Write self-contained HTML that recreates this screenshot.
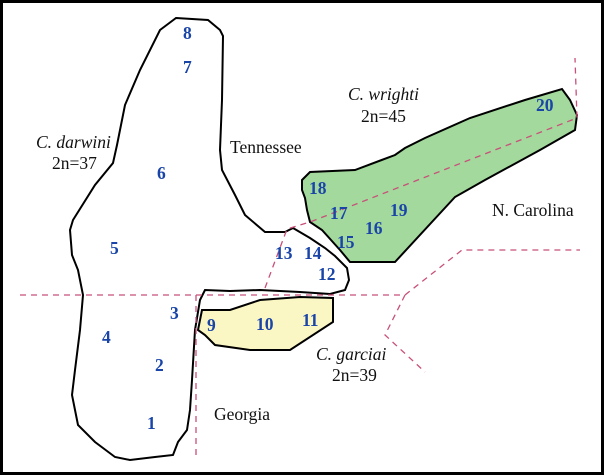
<!DOCTYPE html>
<html><head><style>
html,body{margin:0;padding:0;background:#fff}
svg{display:block}
.n{font-family:"Liberation Serif",serif;font-weight:bold;fill:#1a45a8;font-size:17.5px}
.t{font-family:"Liberation Serif",serif;fill:#111;font-size:17.5px}
</style></head><body>
<svg width="604" height="475" viewBox="0 0 604 475">
<rect x="1.5" y="1.5" width="601" height="472" fill="#fff" stroke="#000" stroke-width="3"/>
<polygon points="176,18 208,20 220,30 223,36 222,100 220,150 222,170 235,195 245,215 265,232 285,232 293,228 310,238 325,248 335,256 347,268 349,280 345,290 330,294 300,292 260,290 230,291 205,290 200,300 195,330 192,380 190,410 187,430 178,442 173,455 155,457 130,460 115,457 95,442 78,425 72,395 75,370 80,330 83,295 78,270 72,255 70,230 73,220 95,185 113,163 117,145 125,105 140,70 160,30" fill="#fff" stroke="#000" stroke-width="2"/>
<polygon points="302,180 310,172 355,170 395,155 405,148 425,138 470,118 525,100 562,89 570,100 577,115 575,130 540,150 485,180 455,197 395,262 350,262 340,250 322,230 310,222 307,210 305,198 302,190" fill="#a3d99c" stroke="#000" stroke-width="2"/>
<polygon points="202,310 230,310 260,300 300,297 333,298 333,322 290,350 250,350 215,345 205,335 198,330 200,320" fill="#fbf7c4" stroke="#000" stroke-width="2"/>
<g fill="none" stroke="#c8507a" stroke-width="1.3" stroke-dasharray="6,5">
<path d="M20,295 L405,295"/>
<path d="M196,295 L196,455"/>
<path d="M405,295 L462,250 L580,250"/>
<path d="M405,295 L385,335 L425,372"/>
<path d="M265,288 L287,229 L310,222 L577,118 L575,58"/>
</g>
<g class="n">
<text x="183" y="39">8</text><text x="183" y="73">7</text><text x="157" y="179">6</text>
<text x="110" y="254">5</text><text x="170" y="319">3</text><text x="102" y="343">4</text>
<text x="155" y="371">2</text><text x="147" y="429">1</text><text x="207" y="331">9</text>
<text x="256" y="330">10</text><text x="302" y="326">11</text><text x="275" y="259">13</text>
<text x="304" y="259">14</text><text x="318" y="280">12</text><text x="309" y="194">18</text>
<text x="330" y="219">17</text><text x="337" y="248">15</text><text x="365" y="234">16</text>
<text x="390" y="216">19</text><text x="536" y="111">20</text>
</g>
<g class="t">
<text x="36" y="148" font-style="italic">C. darwini</text><text x="52" y="169">2n=37</text>
<text x="230" y="153">Tennessee</text>
<text x="348" y="100" font-style="italic">C. wrighti</text><text x="361" y="122">2n=45</text>
<text x="492" y="216">N. Carolina</text>
<text x="316" y="360" font-style="italic">C. garciai</text><text x="332" y="381">2n=39</text>
<text x="214" y="420">Georgia</text>
</g>
</svg>
</body></html>
